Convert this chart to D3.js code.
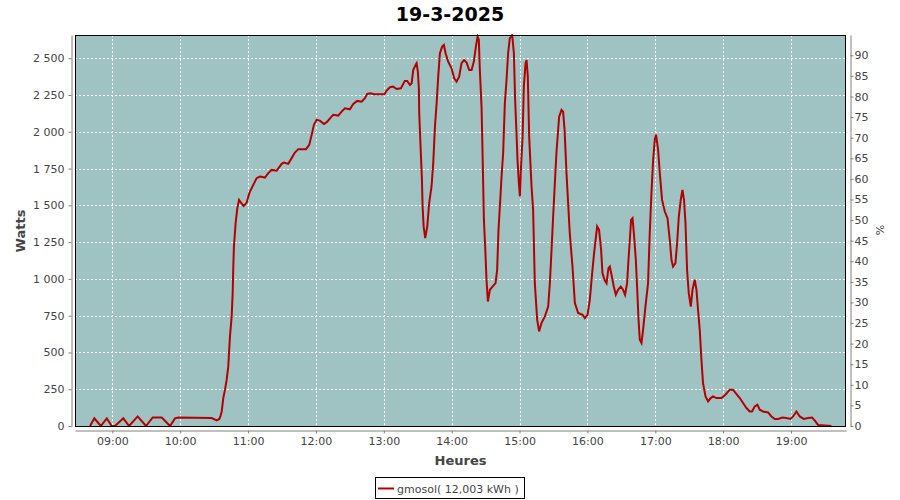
<!DOCTYPE html>
<html>
<head>
<meta charset="utf-8">
<script src="https://cdn.jsdelivr.net/npm/d3@7"></script>
<style>
  html, body { margin: 0; padding: 0; background: #ffffff; }
  svg { display: block; font-family: "DejaVu Sans", sans-serif; }
</style>
</head>
<body>
<svg id="chart" width="900" height="500"></svg>
<script>
// ---- data ----
const title = "19-3-2025";
const seriesName = "gmosol( 12,003 kWh )";
// time of day in minutes after midnight
const minutes = [
  520.3, 524.1, 529.8, 535.1, 539.5, 542.4, 549.7, 554.8, 562.4, 569.8,
  575.7, 583.7, 591.0, 595.4, 598.3, 627.8, 632.3, 634.6, 635.5, 636.7,
  638.1, 639.6, 641.1, 642.5, 644.0, 645.5, 646.4, 646.9, 647.5, 649.0,
  650.5, 652.0, 653.7, 656.1, 658.8, 661.1, 663.2, 664.6, 667.6, 670.5,
  674.9, 677.9, 680.9, 685.3, 689.7, 691.7, 695.5, 698.5, 701.4, 704.4,
  711.2, 714.1, 716.2, 718.2, 720.6, 723.5, 727.1, 730.0, 733.0, 735.3,
  739.7, 742.7, 745.6, 750.0, 753.0, 756.5, 760.4, 763.3, 765.3, 768.3,
  771.3, 780.4, 782.5, 785.4, 788.3, 791.3, 795.1, 798.6, 800.7, 803.1,
  804.6, 806.0, 808.1, 809.0, 810.1, 811.0, 811.3, 812.5, 813.7, 814.3,
  815.2, 816.6, 818.4, 820.1, 822.2, 823.7, 825.2, 826.7, 828.1, 829.6,
  831.6, 833.1, 834.6, 836.9, 839.9, 842.2, 844.3, 846.6, 848.7, 851.0,
  853.2, 855.5, 857.6, 859.6, 861.4, 862.9, 864.0, 864.9, 866.4, 867.3,
  868.5, 869.6, 870.8, 872.0, 873.8, 876.1, 878.8, 880.2, 881.4, 882.6,
  884.1, 885.5, 887.0, 888.5, 889.9, 891.4, 893.5, 895.0, 896.1, 897.3,
  898.2, 899.4, 900.3, 901.1, 902.7, 903.8, 905.3, 906.2, 907.3, 908.5,
  910.6, 912.0, 913.5, 915.6, 917.3, 919.4, 922.4, 925.3, 926.8, 928.3,
  929.7, 931.2, 932.7, 935.0, 937.1, 938.5, 939.8, 941.5, 944.4, 946.8,
  948.9, 951.8, 955.7, 957.7, 960.1, 962.1, 964.2, 965.9, 968.6, 970.3,
  972.1, 973.3, 975.1, 976.9, 978.6, 979.8, 981.6, 983.3, 985.1, 987.1,
  989.5, 991.5, 993.3, 995.1, 996.3, 997.5, 998.6, 999.9, 1001.3, 1002.8,
  1003.9, 1005.2, 1006.3, 1007.8, 1009.2, 1011.3, 1013.6, 1015.1, 1016.6, 1018.1,
  1019.6, 1020.7, 1022.5, 1024.0, 1026.0, 1028.4, 1030.8, 1032.8, 1034.3, 1035.7,
  1037.8, 1039.3, 1040.8, 1042.5, 1044.0, 1045.4, 1046.7, 1048.1, 1049.6, 1051.4,
  1052.9, 1054.9, 1056.4, 1057.8, 1059.3, 1060.8, 1062.2, 1064.4, 1066.7, 1069.0,
  1071.1, 1074.1, 1078.5, 1082.0, 1085.8, 1088.7, 1091.1, 1094.7, 1097.6, 1100.6,
  1103.5, 1105.5, 1107.9, 1110.3, 1112.3, 1115.3, 1119.7, 1122.7, 1125.6, 1128.5,
  1132.4, 1135.9, 1139.5, 1141.8, 1144.8, 1147.7, 1151.2, 1155.0, 1158.6, 1160.9,
  1163.9, 1175.7
];
// power in watts
const watts = [
  0, 52, 0, 52, 0, 0, 52, 0, 65, 0,
  58, 58, 0, 52, 58, 54, 38, 48, 65, 99,
  190, 247, 315, 405, 609, 745, 903, 1073, 1220, 1379,
  1481, 1537, 1519, 1496, 1519, 1583, 1617, 1639, 1685, 1696,
  1689, 1719, 1741, 1736, 1782, 1791, 1782, 1821, 1859, 1882,
  1882, 1911, 1979, 2047, 2081, 2076, 2053, 2069, 2096, 2115,
  2110, 2137, 2160, 2153, 2189, 2210, 2205, 2228, 2257, 2262,
  2255, 2255, 2280, 2303, 2307, 2291, 2296, 2346, 2346, 2318,
  2330, 2420, 2454, 2466, 2409, 2296, 2126, 1899, 1673, 1492,
  1356, 1277, 1356, 1515, 1628, 1787, 2035, 2194, 2375, 2534,
  2579, 2590, 2534, 2477, 2432, 2364, 2341, 2375, 2466, 2488,
  2470, 2420, 2420, 2477, 2579, 2647, 2624, 2420, 2171, 1854,
  1401, 1220, 994, 846, 926, 948, 971, 1062, 1333, 1492,
  1696, 1854, 2194, 2352, 2534, 2636, 2658, 2534, 2216, 1990,
  1809, 1650, 1560, 1730, 1967, 2307, 2466, 2488, 2375, 1967,
  1628, 1469, 971, 722, 643, 700, 745, 812, 971, 1198,
  1424, 1650, 1866, 2103, 2149, 2137, 2013, 1719, 1311, 1084,
  836, 768, 756, 734, 756, 858, 1039, 1175, 1356, 1333,
  1198, 1039, 994, 971, 1073, 1084, 1016, 948, 892, 926,
  948, 926, 892, 971, 1130, 1266, 1401, 1413, 1288, 1130,
  948, 722, 586, 564, 654, 812, 971, 1311, 1583, 1809,
  1950, 1980, 1877, 1719, 1537, 1458, 1413, 1266, 1130, 1084,
  1107, 1243, 1424, 1537, 1605, 1537, 1379, 1062, 903, 812,
  926, 994, 926, 790, 654, 450, 291, 201, 167, 190,
  201, 190, 190, 213, 247, 247, 224, 190, 156, 122,
  99, 99, 133, 145, 111, 99, 92, 65, 48, 48,
  58, 54, 48, 65, 99, 65, 48, 54, 58, 38,
  7, 0
];
const hourTicks = ["09:00","10:00","11:00","12:00","13:00","14:00","15:00","16:00","17:00","18:00","19:00"];
const wattTicks = [0, 250, 500, 750, 1000, 1250, 1500, 1750, 2000, 2250, 2500];
const pctTicks = [0, 5, 10, 15, 20, 25, 30, 35, 40, 45, 50, 55, 60, 65, 70, 75, 80, 85, 90];
const xDomain = ["08:27", "19:48.6"];
const wattMax = 2658;      // top of the plot
const wattsAt100 = 2800;   // 100 % on the right axis

// ---- layout ----
const svg = d3.select("#chart");
const L = 75, R = 846, T = 35, B = 426;
const toMin = s => { const [h, m] = s.split(":"); return (+h) * 60 + (+m); };

const x = d3.scaleLinear().domain(xDomain.map(toMin)).range([L, R]);
const y = d3.scaleLinear().domain([0, wattMax]).range([B, T]);
const y2 = d3.scaleLinear().domain([0, wattMax / wattsAt100 * 100]).range([B, T]);

const fr = d3.formatLocale({decimal: ",", thousands: "\u00a0", grouping: [3], currency: ["", "€"]});
const wFmt = fr.format(",d");

// plot background
svg.append("rect").attr("x", L).attr("y", T).attr("width", R - L).attr("height", B - T)
  .attr("fill", "#9fc3c3");

// grid
const grid = svg.append("g").attr("stroke", "#ffffff").attr("stroke-width", 1)
  .attr("stroke-dasharray", "2,2").attr("shape-rendering", "crispEdges");
grid.selectAll("line.h").data(wattTicks.filter(v => v > 0)).join("line")
  .attr("x1", L).attr("x2", R).attr("y1", d => Math.round(y(d)) + 0.5).attr("y2", d => Math.round(y(d)) + 0.5);
grid.selectAll("line.v").data(hourTicks).join("line")
  .attr("y1", T).attr("y2", B).attr("x1", d => Math.round(x(toMin(d))) + 0.5).attr("x2", d => Math.round(x(toMin(d))) + 0.5);

// clip
svg.append("clipPath").attr("id", "clip").append("rect")
  .attr("x", L).attr("y", T - 1).attr("width", R - L).attr("height", B - T + 1);

// line
const pts = minutes.map((m, i) => [m, watts[i]]);
const line = d3.line().x(d => x(d[0])).y(d => y(d[1]));
svg.append("path").datum(pts).attr("clip-path", "url(#clip)")
  .attr("d", line).attr("fill", "none").attr("stroke", "#b40000")
  .attr("stroke-width", 2).attr("stroke-linejoin", "miter");

// plot border
svg.append("rect").attr("x", L + 0.5).attr("y", T + 0.5).attr("width", R - L - 1).attr("height", B - T)
  .attr("fill", "none").attr("stroke", "#000000").attr("stroke-width", 1);

// axes
function styleAxis(g) {
  g.selectAll(".domain").attr("stroke", "#808080");
  g.selectAll(".tick line").attr("stroke", "#808080");
  g.selectAll(".tick text").attr("fill", "#444444").attr("font-size", "11px")
    .attr("font-family", "DejaVu Sans, sans-serif");
}
const gl = svg.append("g").attr("transform", "translate(71.5,0)")
  .call(d3.axisLeft(y).tickValues(wattTicks).tickFormat(d => wFmt(d)).tickSize(3).tickSizeOuter(0).tickPadding(4));
styleAxis(gl);
const gr = svg.append("g").attr("transform", "translate(850.5,0)")
  .call(d3.axisRight(y2).tickValues(pctTicks).tickSize(3).tickSizeOuter(0).tickPadding(1));
styleAxis(gr);
const gb = svg.append("g").attr("transform", "translate(0,430.5)")
  .call(d3.axisBottom(x).tickValues(hourTicks.map(toMin)).tickFormat((d, i) => hourTicks[i]).tickSize(3).tickSizeOuter(0).tickPadding(4));
styleAxis(gb);

// titles
svg.append("text").attr("x", 450).attr("y", 21).attr("text-anchor", "middle")
  .attr("font-size", "19px").attr("font-weight", "bold").attr("fill", "#000").text(title);
svg.append("text").attr("transform", "translate(25,231) rotate(-90)").attr("text-anchor", "middle")
  .attr("font-size", "13px").attr("font-weight", "bold").attr("fill", "#444").text("Watts");
svg.append("text").attr("x", (L + R) / 2).attr("y", 465).attr("text-anchor", "middle")
  .attr("font-size", "13px").attr("font-weight", "bold").attr("fill", "#444").text("Heures");
svg.append("text").attr("transform", "translate(884,230) rotate(-90)").attr("text-anchor", "middle")
  .attr("font-size", "11px").attr("fill", "#444").text("%");

// legend
const lg = svg.append("g");
lg.append("rect").attr("x", 375.5).attr("y", 477.5).attr("width", 149).attr("height", 21)
  .attr("fill", "#ffffff").attr("stroke", "#000000");
lg.append("line").attr("x1", 378).attr("x2", 394).attr("y1", 488.5).attr("y2", 488.5)
  .attr("stroke", "#b40000").attr("stroke-width", 2);
lg.append("text").attr("x", 397).attr("y", 492.5).attr("font-size", "11px").attr("fill", "#444")
  .text(seriesName);
</script>
</body>
</html>
